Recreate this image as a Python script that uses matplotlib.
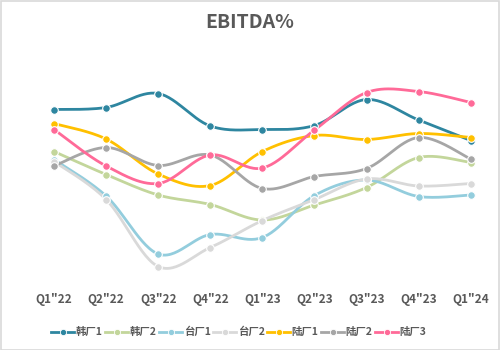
import numpy as np
import matplotlib
matplotlib.use("Agg")
import matplotlib.pyplot as plt
from matplotlib.patches import Rectangle
from matplotlib.lines import Line2D

plt.rcParams['font.family'] = ['Noto Sans CJK SC', 'DejaVu Sans']

quarters = ['Q1"22', 'Q2"22', 'Q3"22', 'Q4"22', 'Q1"23', 'Q2"23', 'Q3"23', 'Q4"23', 'Q1"24']
series_names = ['韩厂1', '韩厂2', '台厂1', '台厂2', '陆厂1', '陆厂2', '陆厂3']
han1 = [34.1, 34.5, 37.3, 30.8, 30.1, 30.9, 36.1, 32.0, 27.9]
han2 = [25.7, 21.1, 17.0, 15.1, 12.0, 15.0, 18.5, 24.5, 23.5]
tai1 = [24.1, 16.8, 5.2, 9.1, 8.5, 16.9, 20.0, 16.7, 17.0]
tai2 = [23.7, 16.1, 2.7, 6.5, 11.9, 16.1, 20.2, 18.8, 19.3]
lu1 = [31.3, 28.2, 21.2, 18.9, 25.7, 28.9, 28.1, 29.3, 28.5]
lu2 = [22.8, 26.5, 22.9, 25.0, 18.3, 20.7, 22.3, 28.5, 24.2]
lu3 = [30.1, 22.8, 19.3, 25.0, 22.4, 30.0, 37.5, 37.7, 35.5]
colors = ['#2E86A0', '#C3D69B', '#93CDDD', '#D9D9D9', '#FFC000', '#A6A6A6', '#FF6A98']
all_series = [han1, han2, tai1, tai2, lu1, lu2, lu3]


def smooth(xs, ys, n=30):
    xs = np.asarray(xs, float)
    ys = np.asarray(ys, float)
    P = np.column_stack([xs, ys])
    Pp = np.vstack([P[0], P, P[-1]])
    out = []
    t = np.linspace(0, 1, n)[:, None]
    for i in range(len(P) - 1):
        p0, p1, p2, p3 = Pp[i], Pp[i + 1], Pp[i + 2], Pp[i + 3]
        c1 = p1 + (p2 - p0) / 6.0
        c2 = p2 - (p3 - p1) / 6.0
        seg = ((1 - t) ** 3) * p1 + 3 * ((1 - t) ** 2) * t * c1 + 3 * (1 - t) * t ** 2 * c2 + t ** 3 * p2
        out.append(seg if i == 0 else seg[1:])
    out = np.vstack(out)
    return out[:, 0], out[:, 1]


fig = plt.figure(figsize=(5, 3.5), dpi=100)
fig.patches.append(Rectangle((0.001, 0.001), 0.997, 0.996, transform=fig.transFigure,
                             fill=False, edgecolor='#D9D9D9', linewidth=1.2))

ax = fig.add_axes([38.4 / 500, 0.2, 448 / 500, 200 / 350])
x = np.arange(len(quarters))
for name, vals, c in zip(series_names, all_series, colors):
    sx, sy = smooth(x, vals)
    ax.plot(sx, sy, color=c, lw=2.0, solid_capstyle='round', zorder=2)
    ax.plot(x, vals, linestyle='none', marker='o', markersize=5.5, markerfacecolor=c,
            markeredgecolor='white', markeredgewidth=0.8, zorder=3)

ax.set_xlim(-0.3, 8.3)
ax.set_ylim(0, 40)
ax.set_xticks(x)
ax.set_xticklabels(quarters, fontsize=8.5, fontweight='bold', color='#595959')
ax.tick_params(axis='x', length=0, pad=9)
ax.set_yticks([])
for s in ax.spines.values():
    s.set_visible(False)

fig.text(0.5, 1 - 22 / 350, 'EBITDA%', ha='center', va='center', fontsize=14,
         fontweight='bold', color='#595959')

handles = [Line2D([0], [0], color=c, lw=2.0, marker='o', markersize=4.5,
                  markerfacecolor=c, markeredgecolor='white', markeredgewidth=0.6)
           for c in colors]
leg = fig.legend(handles, series_names, loc='center', bbox_to_anchor=(0.478, 1 - 332 / 350),
                 ncol=7, frameon=False, fontsize=7.5, handlelength=2.2, handletextpad=0.15,
                 columnspacing=0.25, labelcolor='#595959')
for t in leg.get_texts():
    t.set_fontweight('bold')

fig.savefig('out.png', dpi=100)
